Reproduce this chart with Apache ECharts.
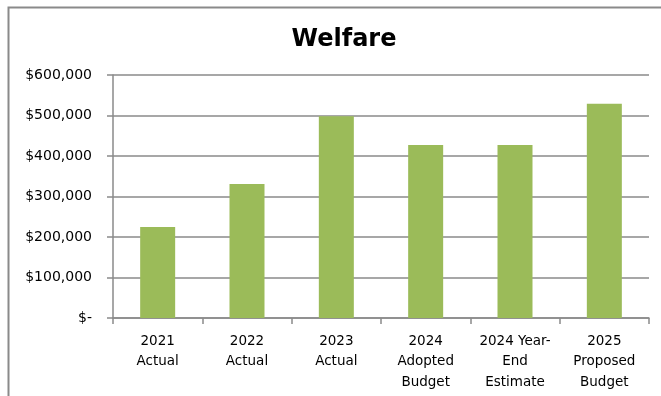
<!DOCTYPE html>
<html>
<head>
<meta charset="utf-8">
<script src="https://cdn.jsdelivr.net/npm/echarts@6/dist/echarts.min.js"></script>
<style>
  html, body { margin: 0; padding: 0; background: #fff; }
  #chart { width: 661px; height: 396px; }
</style>
</head>
<body>
<div id="chart"></div>
<script>
// Welfare spending by budget year
const categories = [
  '2021\nActual',
  '2022\nActual',
  '2023\nActual',
  '2024\nAdopted\nBudget',
  '2024 Year-\nEnd\nEstimate',
  '2025\nProposed\nBudget'
];
const welfare = [225000, 331000, 498000, 427000, 427000, 529000];
const yTicks = [0, 100000, 200000, 300000, 400000, 500000, 600000];

const FONT = 'DejaVu Sans';
const GRAY = '#8a8a8a';

function money(v) {
  if (v === 0) return '$-';
  return '$' + v.toLocaleString('en-US');
}

const chart = echarts.init(document.getElementById('chart'), null, { renderer: 'canvas' });
chart.setOption({
  animation: false,
  backgroundColor: '#ffffff',
  title: {
    text: 'Welfare',
    left: 339,
    top: 23,
    textAlign: 'center',
    textStyle: { fontFamily: FONT, fontSize: 24, fontWeight: 'bold', color: '#000' }
  },
  graphic: [{
    type: 'rect',
    shape: { x: 8.5, y: 7.5, width: 720, height: 420 },
    style: { fill: 'none', stroke: '#8a8a8a', lineWidth: 2 },
    silent: true
  }],
  grid: { left: 113, right: 12, top: 75, bottom: 78, containLabel: false },
  xAxis: {
    type: 'category',
    data: categories,
    axisLine: { lineStyle: { color: GRAY, width: 1.5 } },
    axisTick: { show: true, length: 6, lineStyle: { color: GRAY, width: 1.5 } },
    axisLabel: {
      fontFamily: FONT, fontSize: 13.5, color: '#000',
      lineHeight: 20.5, margin: 13, interval: 0
    }
  },
  yAxis: {
    type: 'value',
    min: yTicks[0],
    max: yTicks[yTicks.length - 1],
    interval: yTicks[1] - yTicks[0],
    axisLine: { show: true, lineStyle: { color: GRAY, width: 1.5 } },
    axisTick: { show: true, length: 6, lineStyle: { color: GRAY, width: 1.5 } },
    splitLine: { lineStyle: { color: GRAY, width: 1.5 } },
    axisLabel: {
      fontFamily: FONT, fontSize: 14, color: '#000', margin: 21,
      formatter: money
    }
  },
  series: [{
    type: 'bar',
    data: welfare,
    barWidth: 35,
    itemStyle: { color: '#9bbb59' }
  }]
});
</script>
</body>
</html>
